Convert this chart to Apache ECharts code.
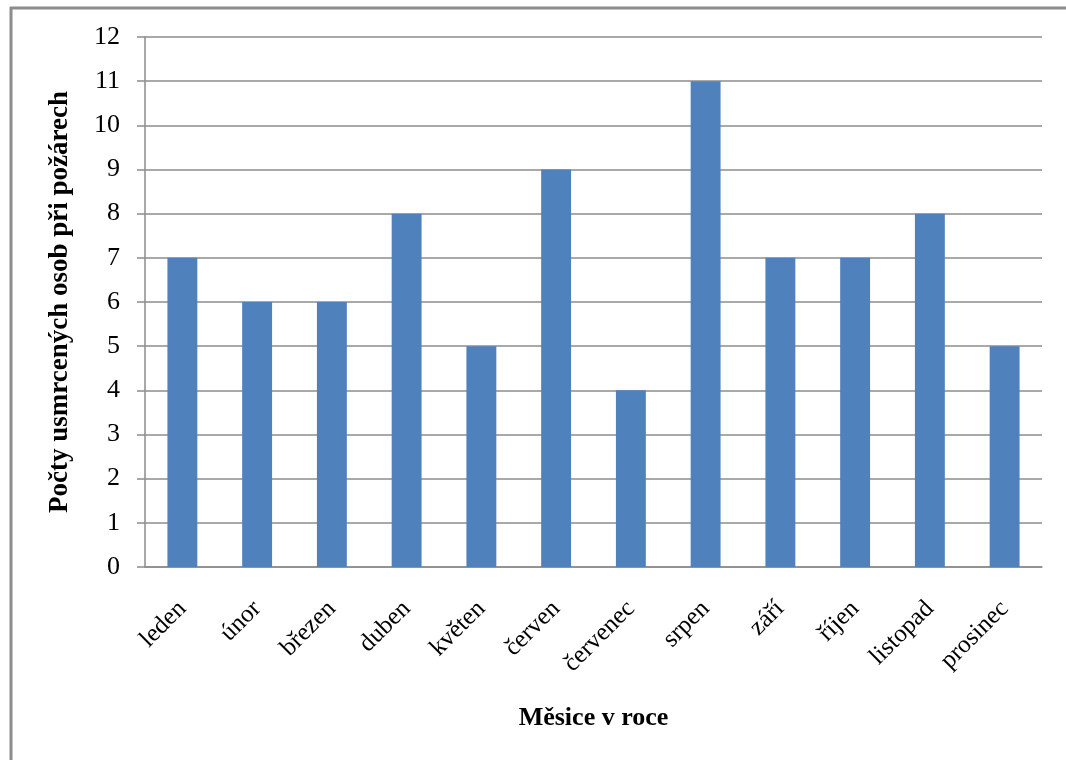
<!DOCTYPE html>
<html>
<head>
<meta charset="utf-8">
<script src="https://cdn.jsdelivr.net/npm/echarts@6/dist/echarts.min.js"></script>
<style>
  html, body { margin: 0; padding: 0; background: #fff; }
  #chart { width: 1066px; height: 760px; }
</style>
</head>
<body>
<div id="chart"></div>
<script>
// data
var months = ["leden", "únor", "březen", "duben", "květen", "červen",
  "červenec", "srpen", "září", "říjen", "listopad", "prosinec"];
var deaths = [7, 6, 6, 8, 5, 9, 4, 11, 7, 7, 8, 5];
var yTitle = "Počty usmrcených osob při požárech";
var xTitle = "Měsice v roce";

var myChart = echarts.init(document.getElementById("chart"));
var serif = "'Liberation Serif', 'DejaVu Serif', serif";

var option = {
  backgroundColor: "#fff",
  animation: false,
  textStyle: { fontFamily: serif },
  graphic: [
    // frame (top + left edge visible)
    { type: "line", shape: { x1: 10, y1: 8, x2: 1066, y2: 8 },
      style: { stroke: "#8c8c8c", lineWidth: 3 } },
    { type: "line", shape: { x1: 11, y1: 7, x2: 11, y2: 760 },
      style: { stroke: "#8c8c8c", lineWidth: 3 } }
  ],
  grid: { left: 145, right: 24, top: 37, bottom: 193 },
  xAxis: {
    type: "category",
    data: months,
    name: xTitle,
    nameLocation: "middle",
    nameGap: 138,
    nameTextStyle: { fontFamily: serif, fontSize: 26, fontWeight: "bold", color: "#000" },
    axisLine: { lineStyle: { color: "#8c8c8c", width: 1.5 } },
    axisTick: { show: false },
    axisLabel: {
      rotate: 45,
      margin: 38,
      fontFamily: serif,
      fontSize: 25,
      color: "#000",
      interval: 0
    }
  },
  yAxis: {
    type: "value",
    min: 0,
    max: 12,
    interval: 1,
    name: yTitle,
    nameLocation: "middle",
    nameGap: 71,
    nameTextStyle: { fontFamily: serif, fontSize: 27, fontWeight: "bold", color: "#000" },
    axisLine: { show: true, lineStyle: { color: "#8c8c8c", width: 1.5 } },
    axisTick: { show: true, length: 8, lineStyle: { color: "#8c8c8c", width: 1.5 } },
    axisLabel: { margin: 25, fontFamily: serif, fontSize: 26, color: "#000" },
    splitLine: { show: true, lineStyle: { color: "#8c8c8c", width: 1.5 } }
  },
  series: [
    {
      type: "bar",
      data: deaths,
      barWidth: "40%",
      itemStyle: { color: "#4f81bd" }
    }
  ]
};

myChart.setOption(option);
</script>
</body>
</html>
